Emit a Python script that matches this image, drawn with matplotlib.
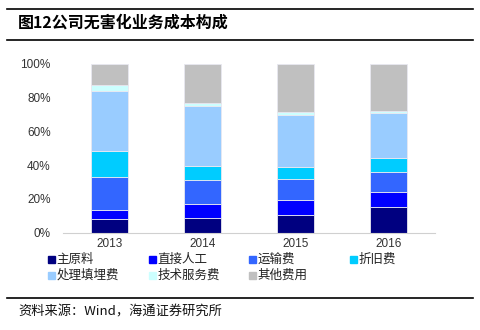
import numpy as np
import matplotlib.pyplot as plt
from matplotlib.lines import Line2D
from matplotlib.patches import Rectangle

plt.rcParams['font.family'] = ['Noto Sans CJK SC', 'DejaVu Sans']

years = ['2013', '2014', '2015', '2016']
names = ['主原料', '直接人工', '运输费', '折旧费', '处理填埋费', '技术服务费', '其他费用']
colors = ['#000080', '#0000FF', '#3366FF', '#00CCFF', '#99CCFF', '#CCFFFF', '#C0C0C0']

# share of cost, percent
main_material = [8.0, 8.6, 10.5, 15.5]
direct_labor = [5.3, 8.3, 8.8, 8.5]
transport = [20.0, 14.1, 12.7, 12.1]
depreciation = [14.9, 8.5, 7.1, 7.9]
disposal = [35.7, 35.5, 30.9, 26.8]
tech_service = [3.6, 2.0, 1.8, 1.4]
other = [12.5, 23.0, 28.2, 27.8]

series = [main_material, direct_labor, transport, depreciation,
          disposal, tech_service, other]

W, H = 480, 330
fig = plt.figure(figsize=(4.8, 3.3), dpi=100)
ax = fig.add_axes([63 / W, 1 - 232.7 / H, 372 / W, 168.7 / H])

x = np.arange(len(years))
bottom = np.zeros(len(years))
for vals, c in zip(series, colors):
    v = np.array(vals) / 100
    ax.bar(x, v, 0.39, bottom=bottom, color=c, edgecolor='#e8e8f0', linewidth=0.6)
    bottom += v

ax.set_xlim(-0.5, 3.5)
ax.set_ylim(0, 1)
ax.set_yticks(np.arange(0, 1.01, 0.2))
ax.set_yticklabels([f'{int(t * 100)}%' for t in np.arange(0, 1.01, 0.2)])
ax.set_xticks(x)
ax.set_xticklabels(years)
for lab in ax.get_xticklabels() + ax.get_yticklabels():
    lab.set_fontfamily('Liberation Sans')
    lab.set_fontsize(8.5)
    lab.set_color('#333333')
ax.tick_params(length=0, pad=4)
ax.tick_params(axis='y', pad=9)
for s in ['top', 'right', 'left']:
    ax.spines[s].set_visible(False)
ax.spines['bottom'].set_color('#d0d0d0')
ax.spines['bottom'].set_linewidth(0.8)

# legend laid out like the original, four per row
for i, (n, c) in enumerate(zip(names, colors)):
    col, row = i % 4, i // 4
    lx = 48 + col * 100.7
    ly = 259 + row * 16.5
    fig.patches.append(Rectangle((lx / W, 1 - (ly + 3.5) / H), 7 / W, 7 / H,
                                 transform=fig.transFigure, color=c))
    fig.text((lx + 8.5) / W, 1 - ly / H, n, fontsize=9, va='center', color='#222222')

# frame lines and texts
for yy in [9, 40, 298]:
    fig.add_artist(Line2D([7 / W, 473 / W], [1 - yy / H, 1 - yy / H],
                          color='black', lw=1.2))
fig.text(18 / W, 1 - 22.5 / H, '图12公司无害化业务成本构成', fontsize=11.5,
         fontweight='bold', va='center')
fig.text(18 / W, 1 - 312 / H, '资料来源：Wind，海通证券研究所', fontsize=9.5,
         va='center', color='#111111')

fig.savefig('out.png', dpi=100)
